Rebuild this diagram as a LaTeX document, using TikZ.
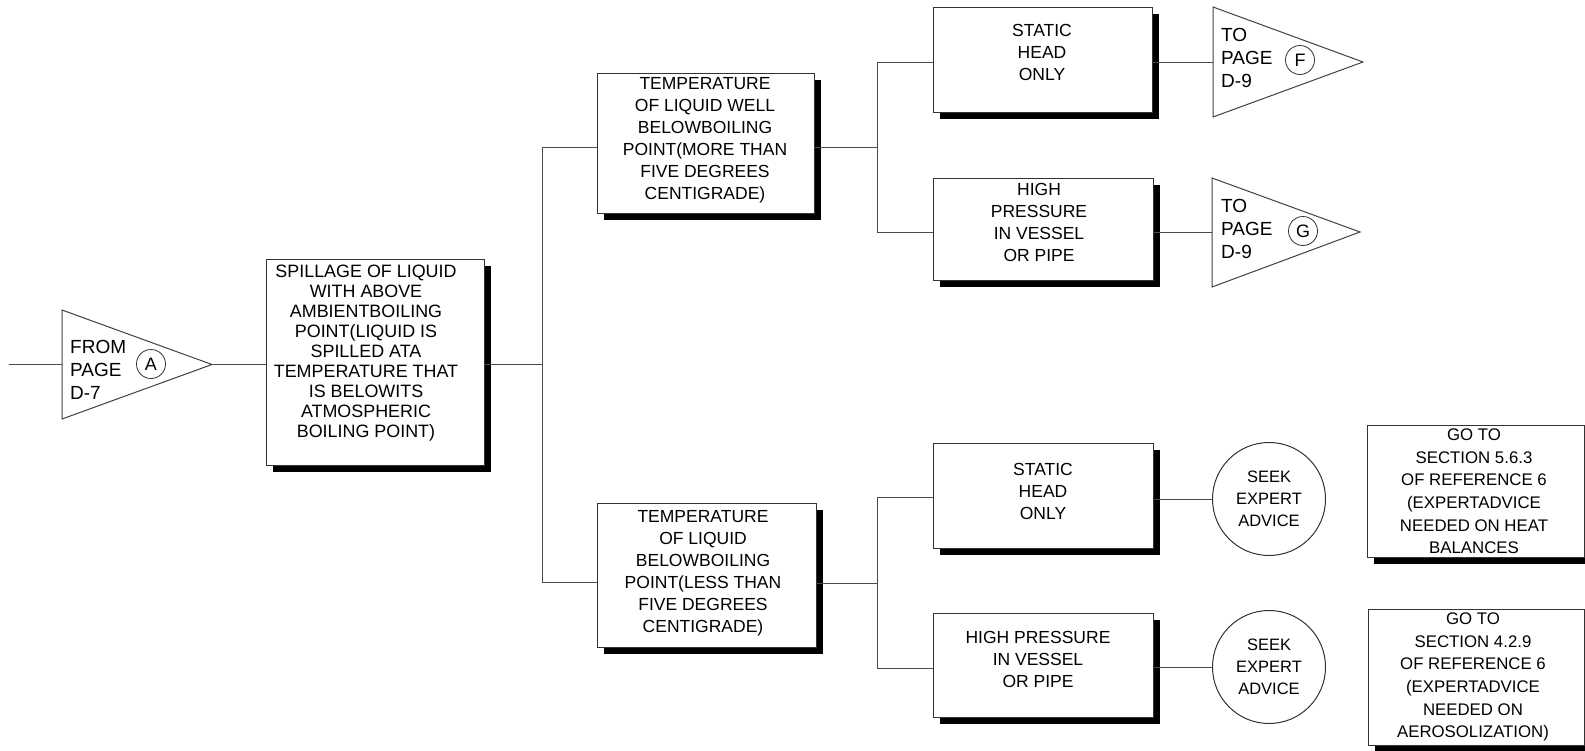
\documentclass[tikz,border=0pt]{standalone}
\usepackage{fontspec}
\setmainfont{Liberation Sans}
\usetikzlibrary{shadows}
\begin{document}
\begin{tikzpicture}[x=1pt,y=-1pt,
  conn/.style={draw=black!70, line width=1pt},
  boxst/.style={rectangle, draw=black!80, line width=1pt, fill=white, inner sep=0pt, anchor=north west,
    general shadow={fill=black, shadow xshift=6pt, shadow yshift=-6pt}},
  txt/.style={align=center, inner sep=0pt, font=\fontsize{17.5}{22}\selectfont},
  maintxt/.style={align=center, inner sep=0pt, font=\fontsize{17.9}{20}\selectfont},
  reftxt/.style={align=center, inner sep=0pt, font=\fontsize{16.8}{22.6}\selectfont},
  tritxt/.style={align=left, inner sep=0pt, anchor=west, font=\fontsize{19}{23}\selectfont},
  letter/.style={circle, draw=black!80, line width=0.8pt, minimum size=29pt, inner sep=0pt, font=\fontsize{18}{18}\selectfont},
  advice/.style={circle, draw=black!80, line width=1pt, minimum size=113pt, inner sep=0pt, align=center, font=\fontsize{16.5}{22}\selectfont},
  tri/.style={draw=black!75, line width=1pt}
]
\useasboundingbox (0,0) rectangle (1585,750);

% ---- triangle A
\coordinate (Atl) at (62,310);
\coordinate (Abl) at (62,419);
\coordinate (Atip) at (212,364.5);
\draw[tri] (Atl) -- (Atip) -- (Abl) -- cycle;
\node[tritxt] (Atxt) at (70,369.5) {FROM\\PAGE\\D-7};
\node[letter] (Acirc) at (151,364) {A};
\coordinate (inA) at (9,364.5);

% ---- main box
\node[boxst, minimum width=218pt, minimum height=206pt] (main) at (266,259) {};
\node[maintxt] (mainT) at (366,353) {SPILLAGE OF LIQUID\\WITH ABOVE\\AMBIENTBOILING\\POINT(LIQUID IS\\SPILLED ATA\\TEMPERATURE THAT\\IS BELOWITS\\ATMOSPHERIC\\BOILING POINT)};

% ---- temperature boxes
\node[boxst, minimum width=217pt, minimum height=140pt] (t1) at (597,73) {};
\node[txt] (t1T) at (705,140) {TEMPERATURE\\OF LIQUID WELL\\BELOWBOILING\\POINT(MORE THAN\\FIVE DEGREES\\CENTIGRADE)};
\node[boxst, minimum width=219pt, minimum height=144pt] (t2) at (597,503) {};
\node[txt] (t2T) at (703,573.5) {TEMPERATURE\\OF LIQUID\\BELOWBOILING\\POINT(LESS THAN\\FIVE DEGREES\\CENTIGRADE)};

% ---- right column boxes
\node[boxst, minimum width=219pt, minimum height=105pt] (sh1) at (933,7) {};
\node[txt] (sh1T) at (1042,52) {STATIC\\HEAD\\ONLY};
\node[boxst, minimum width=220pt, minimum height=102pt] (hp1) at (933,178) {};
\node[txt] (hp1T) at (1039,222) {HIGH\\PRESSURE\\IN VESSEL\\OR PIPE};
\node[boxst, minimum width=220pt, minimum height=105pt] (sh2) at (933,443) {};
\node[txt] (sh2T) at (1043,491) {STATIC\\HEAD\\ONLY};
\node[boxst, minimum width=220pt, minimum height=104pt] (hp2) at (933,613) {};
\node[txt] (hp2T) at (1038,659.5) {HIGH PRESSURE\\IN VESSEL\\OR PIPE};

% ---- triangles F and G
\coordinate (Ftl) at (1213,7);
\coordinate (Fbl) at (1213,117);
\coordinate (Ftip) at (1363,62);
\draw[tri] (Ftl) -- (Ftip) -- (Fbl) -- cycle;
\node[tritxt] (Ftxt) at (1221,57.5) {TO\\PAGE\\D-9};
\node[letter] (Fcirc) at (1300,60) {F};
\coordinate (Gtl) at (1212,178);
\coordinate (Gbl) at (1212,287);
\coordinate (Gtip) at (1360,232);
\draw[tri] (Gtl) -- (Gtip) -- (Gbl) -- cycle;
\node[tritxt] (Gtxt) at (1221,228.5) {TO\\PAGE\\D-9};
\node[letter] (Gcirc) at (1303,231) {G};

% ---- advice circles
\node[advice] (c1) at (1269,499) {SEEK\\EXPERT\\ADVICE};
\node[advice] (c2) at (1269,667) {SEEK\\EXPERT\\ADVICE};

% ---- reference boxes
\node[boxst, minimum width=217pt, minimum height=132pt] (r1) at (1367,425) {};
\node[reftxt] (r1T) at (1474,491.5) {GO TO\\SECTION 5.6.3\\OF REFERENCE 6\\(EXPERTADVICE\\NEEDED ON HEAT\\BALANCES};
\node[boxst, minimum width=216pt, minimum height=136pt] (r2) at (1368,609) {};
\node[reftxt] (r2T) at (1473,677) {GO TO\\SECTION 4.2.9\\OF REFERENCE 6\\(EXPERTADVICE\\NEEDED ON\\AEROSOLIZATION)};

% ---- connectors
\coordinate (j0) at (542,364.5);
\coordinate (j0t) at (542,147);
\coordinate (j0b) at (542,582);
\coordinate (j1) at (877,147);
\coordinate (j1t) at (877,62);
\coordinate (j1b) at (877,232);
\coordinate (j2) at (877,583);
\coordinate (j2t) at (877,497);
\coordinate (j2b) at (877,668);

\draw[conn] (inA) -- (inA -| Atl);
\draw[conn] (Atip) -- (Atip -| main.west);
\draw[conn] (j0 -| main.east) -- (j0);
\draw[conn] (j0t -| t1.west) -- (j0t) -- (j0b) -- (j0b -| t2.west);
\draw[conn] (j1 -| t1.east) -- (j1);
\draw[conn] (j1t -| sh1.west) -- (j1t) -- (j1b) -- (j1b -| hp1.west);
\draw[conn] (j2 -| t2.east) -- (j2);
\draw[conn] (j2t -| sh2.west) -- (j2t) -- (j2b) -- (j2b -| hp2.west);
\draw[conn] (Ftl |- Ftip) coordinate (Fin) (Fin -| sh1.east) -- (Fin);
\draw[conn] (Gtl |- Gtip) coordinate (Gin) (Gin -| hp1.east) -- (Gin);
\draw[conn] (c1.west -| sh2.east) -- (c1.west);
\draw[conn] (c2.west -| hp2.east) -- (c2.west);
\end{tikzpicture}
\end{document}
